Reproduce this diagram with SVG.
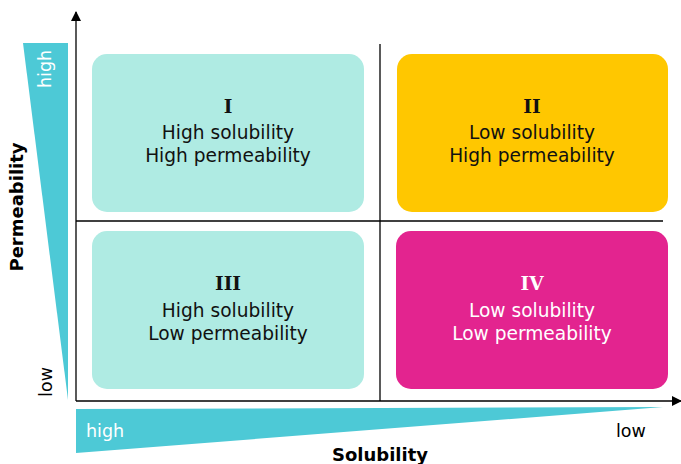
<svg xmlns="http://www.w3.org/2000/svg" width="681" height="464" viewBox="0 0 681 464">
<style>
.lbl{font-family:"DejaVu Sans","Verdana",sans-serif;font-size:18.6px;text-anchor:middle}
.num{font-family:"DejaVu Serif","Liberation Serif",serif;font-weight:bold;font-size:18.5px;text-anchor:middle}
.ax{font-family:"DejaVu Sans",sans-serif;font-weight:bold;font-size:18px;text-anchor:middle;fill:#000}
.tick{font-family:"DejaVu Sans",sans-serif;font-size:17.5px}
.line{stroke:#000;stroke-width:1.3;fill:none}
</style>
<defs>
<marker id="arr" viewBox="0 0 10 10" refX="9" refY="5" markerWidth="10" markerHeight="10" markerUnits="userSpaceOnUse" orient="auto">
<path d="M0,0 L10,5 L0,10 z" fill="#000"/>
</marker>
</defs>
<g id="perm-scale">
<polygon points="23,43 68,43 68,400" fill="#4DC9D6"/>
<text class="tick" transform="translate(51,69) rotate(-90)" text-anchor="middle" fill="#fff">high</text>
<text class="tick" transform="translate(52,382) rotate(-90)" text-anchor="middle" fill="#000">low</text>
<text class="ax" transform="translate(23,207) rotate(-90)">Permeability</text>
</g>
<g id="sol-scale">
<polygon points="76,409 663,407 76,453" fill="#4DC9D6"/>
<text class="tick" x="86" y="437" fill="#fff">high</text>
<text class="tick" x="616" y="437" fill="#000">low</text>
<text class="ax" x="380" y="461">Solubility</text>
</g>
<g id="connectors">
<line class="line" x1="76" y1="401" x2="76" y2="12" marker-end="url(#arr)"/>
<line class="line" x1="76" y1="401" x2="681" y2="401" marker-end="url(#arr)"/>
<line class="line" x1="380" y1="44" x2="380" y2="401"/>
<line class="line" x1="76" y1="221" x2="663" y2="221"/>
</g>
<g id="q1">
<rect x="92" y="54" width="272" height="158" rx="15" fill="#AFEBE3"/>
<text class="num" x="228" y="113" fill="#111">I</text>
<text class="lbl" x="228" y="139" fill="#111">High solubility</text>
<text class="lbl" x="228" y="162" fill="#111">High permeability</text>
</g>
<g id="q2">
<rect x="397" y="54" width="271" height="158" rx="15" fill="#FFC700"/>
<text class="num" x="532" y="113" fill="#111">II</text>
<text class="lbl" x="532" y="139" fill="#111">Low solubility</text>
<text class="lbl" x="532" y="162" fill="#111">High permeability</text>
</g>
<g id="q3">
<rect x="92" y="231" width="272" height="158" rx="15" fill="#AFEBE3"/>
<text class="num" x="228" y="290" fill="#111">III</text>
<text class="lbl" x="228" y="317" fill="#111">High solubility</text>
<text class="lbl" x="228" y="340" fill="#111">Low permeability</text>
</g>
<g id="q4">
<rect x="396" y="231" width="272" height="158" rx="15" fill="#E3248F"/>
<text class="num" x="532" y="290" fill="#fff">IV</text>
<text class="lbl" x="532" y="317" fill="#fff">Low solubility</text>
<text class="lbl" x="532" y="340" fill="#fff">Low permeability</text>
</g>
</svg>
